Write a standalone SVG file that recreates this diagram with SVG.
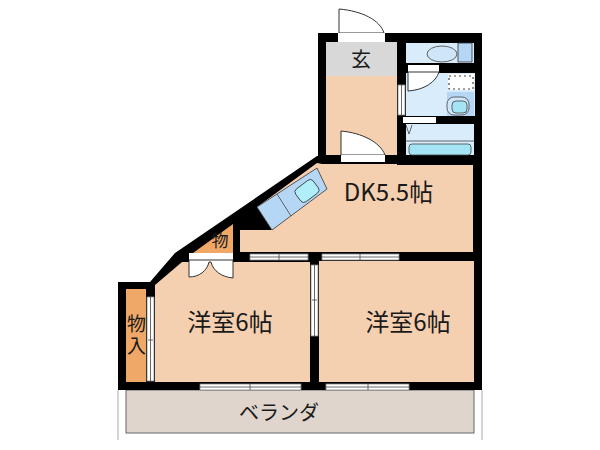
<svg xmlns="http://www.w3.org/2000/svg" width="600" height="450" viewBox="0 0 600 450">
<style>
.t{font-family:"Noto Sans CJK JP","Liberation Sans",sans-serif;fill:#1a1a1a}
.c{font-family:"Liberation Sans","Noto Sans CJK JP",sans-serif;fill:#1a1a1a}
.w{fill:#fff;stroke:#888;stroke-width:.8}
.d{fill:#fff;stroke:#333;stroke-width:1}
.l{stroke:#444;stroke-width:.8;fill:none}
.p{fill:#f5d0b0}
.b{fill:#d8ecfb}
.k{fill:#b5d6f5;stroke:#333;stroke-width:.8}
</style>
<rect width="600" height="450" fill="#fff"/>
<g id="balcony">
<path d="M118 390V440M482 390V440" stroke="#aaa" stroke-width="1" fill="none"/>
<rect x="126" y="390" width="348" height="43" fill="#e0d5cc" stroke="#666" stroke-width="1"/>
<text class="t" x="279" y="420" font-size="20" text-anchor="middle">ベランダ</text>
</g>
<g id="walls">
<path d="M318 33H482V390H118V282H150L175 253L317 156H318Z" fill="#000"/>
</g>
<g id="entrance">
<path class="d" d="M339 33V9C362 11 380 20 384 33Z"/>
<rect x="338" y="33" width="47" height="9" fill="#fff"/>
<rect x="326" y="42" width="71" height="34" fill="#d8d8d8"/>
<text class="t" x="361" y="67" font-size="20" text-anchor="middle">玄</text>
</g>
<g id="hall">
<rect class="p" x="326" y="76" width="71" height="79"/>
<path class="d" d="M341 155V131C362 133 380 142 385 155Z"/>
<rect x="341" y="155" width="44" height="7" fill="#fff"/>
</g>
<g id="toilet">
<rect class="b" x="406" y="43" width="68" height="20"/>
<ellipse cx="442" cy="54" rx="15" ry="8" fill="#cfe5f8" stroke="#444" stroke-width=".8"/>
<rect class="k" x="458" y="43" width="14" height="19"/>
</g>
<g id="washroom">
<rect class="b" x="406" y="73" width="69" height="43"/>
<rect x="408" y="65" width="31" height="7" fill="#fff"/>
<path class="d" d="M408 72V91C424 90 436 82 439 72Z"/>
<rect x="448" y="74" width="26" height="16" fill="#fff"/>
<path d="M449 76H473V89H449Z" fill="none" stroke="#444" stroke-width="1.200" stroke-dasharray="2 3"/>
<rect x="447" y="92" width="27" height="24" fill="#b5d6f5"/>
<rect x="447" y="97" width="22" height="18" rx="7" fill="#cfe5f8" stroke="#444" stroke-width=".8"/>
<rect x="452" y="101" width="15" height="12" rx="4" fill="#a5e4f5" stroke="#444" stroke-width=".8"/>
<rect class="w" x="398" y="85" width="7" height="30"/>
<path class="l" d="M401.500 85V115"/>
<rect x="403" y="117" width="33" height="6" fill="#fff"/>
</g>
<g id="bath">
<rect class="b" x="406" y="124" width="68" height="31"/>
<path class="l" d="M406 141H474"/>
<rect x="409" y="144" width="62" height="11" rx="3" fill="#a5e4f5" stroke="#444" stroke-width=".8"/>
<path class="l" d="M406 125L409 134L412 125"/>
</g>
<g id="dk">
<path class="p" d="M322 164H397V165H473V252H240V230H272L257 207L317 163Z"/>
<path class="k" d="M257 207L317 168L327 189L272 230Z"/>
<path class="l" d="M277 194L291 216"/>
<rect x="296" y="183" width="22" height="16" rx="4" transform="rotate(-37 307 191)" fill="#b0eefa" stroke="#333" stroke-width=".8"/>
<text class="t" x="388.500" y="201" font-size="24" text-anchor="middle">DK5.5帖</text>
</g>
<g id="storage-small">
<path d="M193 253L233 224V253Z" fill="#f0a868"/>
<text class="t" x="220" y="247" font-size="17" text-anchor="middle">物</text>
<rect x="189" y="253" width="44" height="7" fill="#fff"/>
</g>
<g id="room1">
<path class="p" d="M182 262H310V382H155V285Z"/>
<path class="d" d="M189 260V277C199 277 207 271 209 262H211C213 271 222 277 233 278V260Z"/>
<rect class="w" x="250" y="254" width="58" height="6"/>
<path class="l" d="M250 257H308M279 254V260"/>
<text class="t" x="230" y="331" font-size="24" text-anchor="middle">洋室6帖</text>
</g>
<g id="room2">
<rect class="p" x="319" y="261" width="155" height="121"/>
<rect class="w" x="322" y="254" width="77" height="6"/>
<path class="l" d="M322 257H399M360 254V260"/>
<rect class="w" x="311" y="265" width="7" height="71"/>
<path class="l" d="M314.500 265V336M312 300H317"/>
<text class="t" x="408" y="331" font-size="24" text-anchor="middle">洋室6帖</text>
</g>
<g id="closet">
<rect x="126" y="289" width="20" height="93" fill="#f0a868"/>
<text class="c" x="136.500" y="331" font-size="19" text-anchor="middle">物</text>
<text class="c" x="136.500" y="353" font-size="19" text-anchor="middle">入</text>
<rect class="w" x="147" y="297" width="7" height="84"/>
<path class="l" d="M150.500 297V381M148 340H153"/>
</g>
<g id="windows">
<rect class="w" x="200" y="384" width="101" height="6"/>
<path class="l" d="M200 387H301M250 384V390"/>
<rect class="w" x="326" y="384" width="83" height="6"/>
<path class="l" d="M326 387H409M368 384V390"/>
</g>
</svg>
